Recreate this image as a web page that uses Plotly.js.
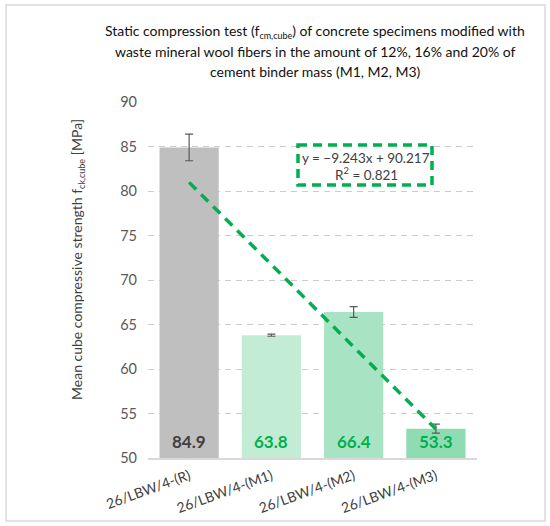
<!DOCTYPE html>
<html>
<head>
<meta charset="utf-8">
<script src="https://cdn.plot.ly/plotly-3.0.1.min.js"></script>
<style>html,body{margin:0;padding:0;background:#fff;}#chart{width:550px;height:526px;}</style>
</head>
<body>
<div id="chart"></div>
<script>
const categories = ["26/LBW/4-(R)", "26/LBW/4-(M1)", "26/LBW/4-(M2)", "26/LBW/4-(M3)"];
const meanStrength = [84.9, 63.8, 66.4, 53.3];
const errorValues = [1.5, 0.12, 0.6, 0.5];
const barColors = ["#bfbfbf", "#c2ecd3", "#a8e4c3", "#90dcb2"];
const labelColors = ["#404040", "#00b050", "#00b050", "#00b050"];
const trendX = ["26/LBW/4-(R)", "26/LBW/4-(M3)"];
const trendY = [80.97, 53.25];
const yTicks = [50, 55, 60, 65, 70, 75, 80, 85, 90];
const titleLines = [
  "Static compression test (f<sub><span style='font-size:9px'>cm,cube</span></sub>) of concrete specimens modified with",
  "waste mineral wool fibers in the amount of 12%, 16% and 20% of",
  "cement binder mass (M1, M2, M3)"
];
const equationLines = ["y = −9.243x + 90.217", "R<sup>2</sup> = 0.821"];
const yTitle = "Mean cube compressive strength f<sub><span style='font-size:9px'>ck,cube</span></sub> [MPa]";

const FONT = "Lato, 'Open Sans', sans-serif";
const PX = v => (v - 148) / 329;
const PY = v => (458 - v) / 356;

const bars = {
  type: "bar",
  x: categories,
  y: meanStrength,
  marker: {color: barColors, line: {width: 0}},
  error_y: {type: "data", array: errorValues, visible: true, color: "#595959", thickness: 1.2, width: 4},
  hoverinfo: "x+y",
  showlegend: false
};

const trend = {
  type: "scatter",
  mode: "lines",
  x: trendX,
  y: trendY,
  line: {color: "#00b050", width: 3.5, dash: "10px,7px"},
  showlegend: false,
  hoverinfo: "skip"
};

const valueAnnotations = categories.map((c, i) => ({
  x: c, y: 51.8, xref: "x", yref: "y", xanchor: "center", yanchor: "middle",
  text: "<b>" + meanStrength[i].toFixed(1) + "</b>",
  showarrow: false,
  font: {family: FONT, size: 17, color: labelColors[i]}
}));

const titleAnnotations = titleLines.map((t, i) => ({
  xref: "paper", yref: "paper", x: PX(315), y: PY(31 + i * 20.5),
  xanchor: "center", yanchor: "middle", showarrow: false,
  text: t, font: {family: FONT, size: 14, color: "#111"}
}));

const eqAnnotations = equationLines.map((t, i) => ({
  xref: "paper", yref: "paper", x: PX(366), y: PY(158 + i * 15.5),
  xanchor: "center", yanchor: "middle", showarrow: false,
  text: t, font: {family: FONT, size: 13.5, color: "#404040"}
}));

const layout = {
  width: 550, height: 526,
  margin: {l: 148, r: 73, t: 102, b: 68},
  paper_bgcolor: "#fff",
  plot_bgcolor: "#fff",
  bargap: 0.28,
  font: {family: FONT, color: "#595959", size: 14},
  xaxis: {
    type: "category",
    tickangle: -20,
    tickfont: {family: FONT, size: 14, color: "#404040"},
    ticklabelstandoff: 3,
    showline: true, linecolor: "#d9d9d9", linewidth: 1.5,
    ticks: "", showgrid: false, zeroline: false
  },
  yaxis: {
    range: [50, 90],
    tickvals: yTicks,
    ticktext: yTicks.map(String),
    tickfont: {family: FONT, size: 14.5, color: "#595959"},
    ticklabelstandoff: 10,
    showgrid: true, gridcolor: "#cccccc", griddash: "6px,5px", gridwidth: 1,
    zeroline: false, showline: false, ticks: "", ticklen: 0,
    automargin: false
  },
  shapes: [
    {type: "rect", xref: "paper", yref: "paper",
     x0: PX(6), x1: PX(545), y0: PY(5), y1: PY(521),
     line: {color: "#d9d9d9", width: 1.5}, fillcolor: "rgba(0,0,0,0)", layer: "below"},
    {type: "rect", xref: "paper", yref: "paper",
     x0: PX(298), x1: PX(432), y0: PY(145), y1: PY(185),
     line: {color: "#00b050", width: 3.5, dash: "9px,6px"}, fillcolor: "#fff", layer: "above"}
  ],
  annotations: valueAnnotations.concat(titleAnnotations, eqAnnotations, [
    {xref: "paper", yref: "paper", x: PX(77), y: PY(260),
     xanchor: "center", yanchor: "middle",
     text: yTitle, textangle: -90, showarrow: false,
     font: {family: FONT, size: 14, color: "#404040"}}
  ])
};

Plotly.newPlot("chart", [bars, trend], layout, {displayModeBar: false, staticPlot: true});
</script>
</body>
</html>
